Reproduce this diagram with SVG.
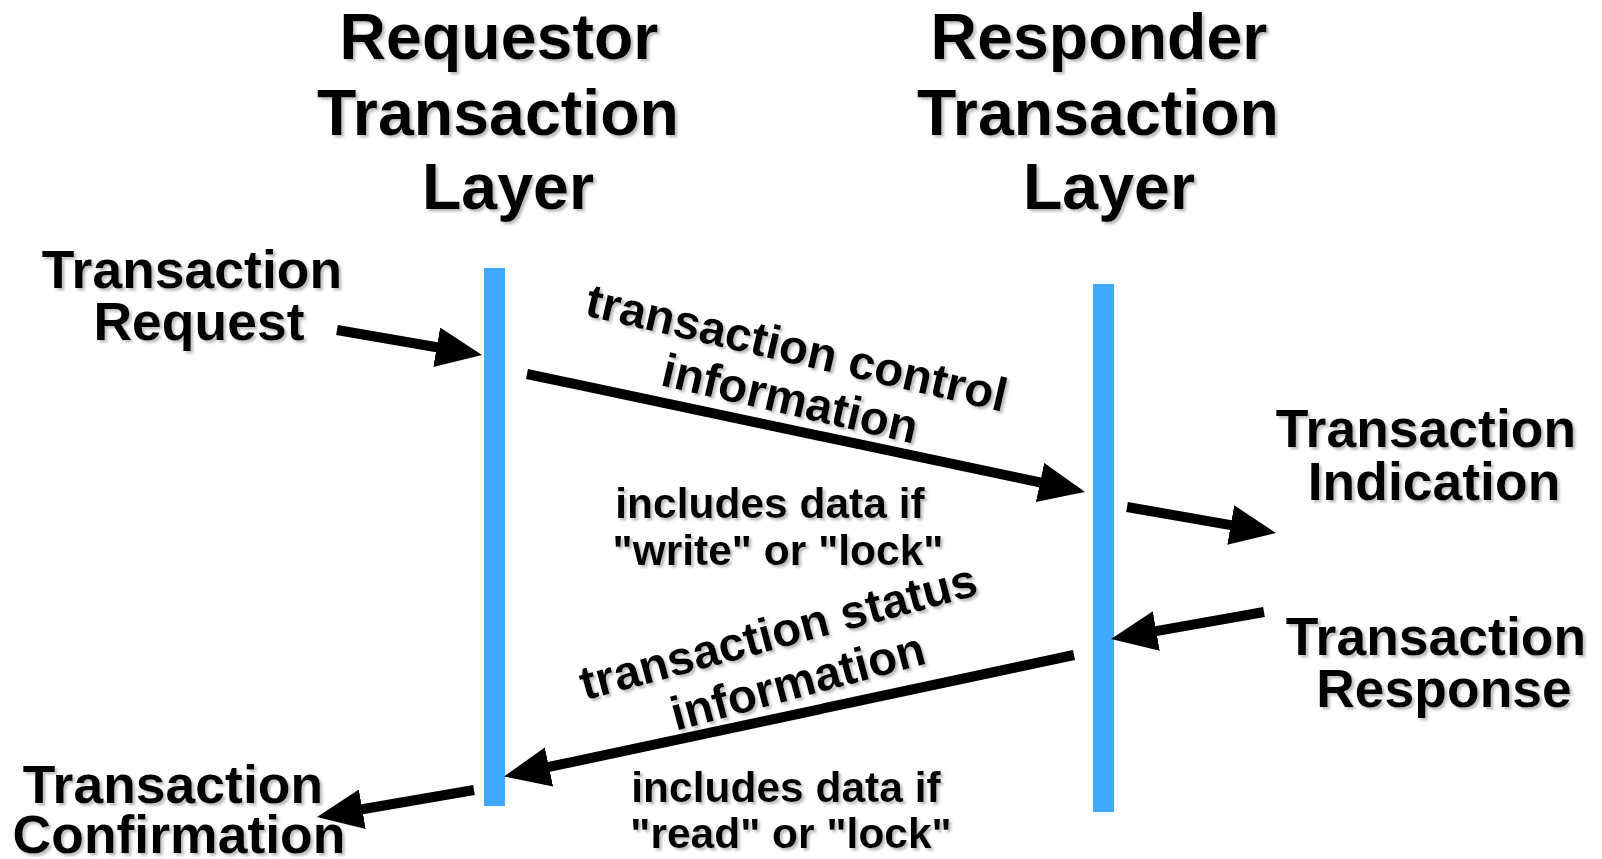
<svg xmlns="http://www.w3.org/2000/svg" width="1602" height="859" viewBox="0 0 1602 859">
  <style>
    text { font-family: "Liberation Sans", Arial, sans-serif; font-weight: bold; fill: #000; text-anchor: middle; }
    .title { font-size: 64.5px; }
    .label { font-size: 53.5px; }
    .note { font-size: 42.5px; }
    .flow { font-size: 47.5px; }
    .txt { filter: url(#shadow); }
    .bar { fill: #3FA9FF; }
    .arrow { stroke: #000; stroke-width: 10; fill: none; marker-end: url(#head); }
  </style>
  <defs>
    <filter id="shadow" x="-5%" y="-10%" width="115%" height="130%">
      <feDropShadow dx="2.5" dy="2.5" stdDeviation="0.8" flood-color="#888" flood-opacity="0.55"/>
    </filter>
    <marker id="head" viewBox="0 -20 46 40" refX="6" refY="0" markerWidth="46" markerHeight="40" markerUnits="userSpaceOnUse" orient="auto">
      <path d="M0,-20 L46,0 L0,20 z" fill="#000"/>
    </marker>
  </defs>

  <rect width="1602" height="859" fill="#fff"/>

  <!-- lifelines -->
  <g id="requestor-layer">
    <rect class="bar" x="484" y="268" width="21" height="538"/>
    <g class="txt">
      <text class="title" x="499" y="59">Requestor</text>
      <text class="title" x="498" y="135">Transaction</text>
      <text class="title" x="508" y="209">Layer</text>
    </g>
  </g>

  <g id="responder-layer">
    <rect class="bar" x="1093" y="284" width="21" height="528"/>
    <g class="txt">
      <text class="title" x="1099" y="59">Responder</text>
      <text class="title" x="1098" y="135">Transaction</text>
      <text class="title" x="1109" y="209">Layer</text>
    </g>
  </g>

  <!-- primitives at the layer boundaries -->
  <g id="transaction-request" class="txt">
    <text class="label" x="192" y="288">Transaction</text>
    <text class="label" x="199" y="340">Request</text>
  </g>

  <g id="transaction-indication" class="txt">
    <text class="label" x="1426" y="447">Transaction</text>
    <text class="label" x="1434" y="500">Indication</text>
  </g>

  <g id="transaction-response" class="txt">
    <text class="label" x="1436" y="655">Transaction</text>
    <text class="label" x="1444" y="707">Response</text>
  </g>

  <g id="transaction-confirmation" class="txt">
    <text class="label" x="173" y="803">Transaction</text>
    <text class="label" x="179" y="853">Confirmation</text>
  </g>

  <!-- message labels -->
  <g id="control-info" class="txt">
    <g transform="translate(797,347) rotate(13)">
      <text class="flow" x="0" y="17">transaction control</text>
      <text class="flow" x="5" y="68">information</text>
    </g>
    <text class="note" x="770" y="518">includes data if</text>
    <text class="note" x="778" y="565">"write" or "lock"</text>
  </g>

  <g id="status-info" class="txt">
    <g transform="translate(778,631) rotate(-15)">
      <text class="flow" x="0" y="17">transaction status</text>
      <text class="flow" x="6" y="70">information</text>
    </g>
    <text class="note" x="786" y="802">includes data if</text>
    <text class="note" x="791" y="848">"read" or "lock"</text>
  </g>

  <!-- connectors -->
  <g id="connectors">
    <line class="arrow" x1="337" y1="330" x2="442.6" y2="348.2"/>
    <line class="arrow" x1="527" y1="374" x2="1045.9" y2="483.7"/>
    <line class="arrow" x1="1127" y1="507" x2="1236.6" y2="526.1"/>
    <line class="arrow" x1="1264" y1="612" x2="1150.4" y2="632.1"/>
    <line class="arrow" x1="1074" y1="655" x2="543.1" y2="768.2"/>
    <line class="arrow" x1="474" y1="790" x2="356.4" y2="810.2"/>
  </g>
</svg>
